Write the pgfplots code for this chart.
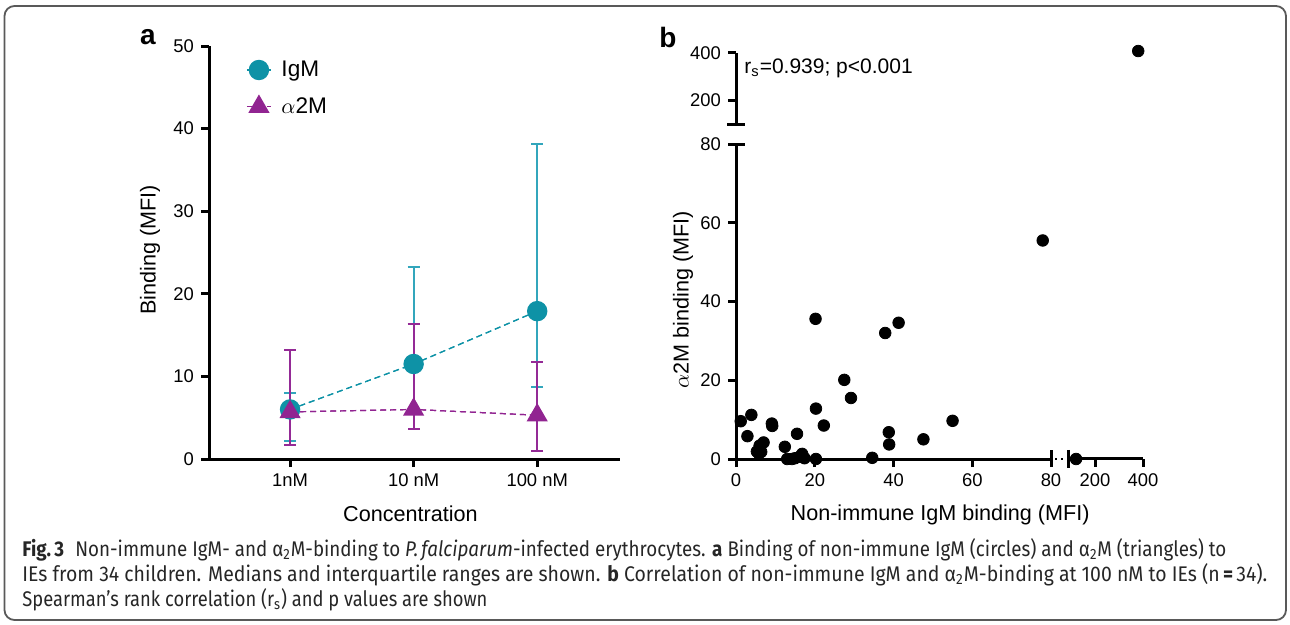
\documentclass[border=0pt]{standalone}
\usepackage{fontspec}
\setmainfont{Liberation Sans}
\newfontfamily\capfont{Fira Sans}
\usepackage{graphicx}
\usepackage{pgfplots}
\pgfplotsset{compat=1.18}

\definecolor{igm}{RGB}{14,146,166}
\definecolor{igmbar}{RGB}{50,166,188}
\definecolor{atm}{RGB}{145,36,145}
\definecolor{atmbar}{RGB}{148,42,150}

% caption lines are squeezed to the width they have in the reference
\newsavebox\capbox
\newcommand\capline[2]{\sbox\capbox{#2}\pgfmathsetmacro\capsx{#1/\the\wd\capbox}\scalebox{\capsx}[1]{\usebox\capbox}}

\pgfplotsset{
  figax/.style={
    scale only axis, clip=false,
    axis line style={line width=1.5pt, -, black},
    every tick/.style={line width=1.5pt, black},
    tick align=outside, major tick length=4pt,
    tick label style={font=\fontsize{9.2}{11}\selectfont},
    /pgf/number format/assume math mode=true,
    label style={font=\fontsize{10.8}{13}\selectfont},
  },
  dot/.style={only marks, mark=*, mark size=2.9pt, black},
}

\pgfplotstableread{
x y
1.2 9.6
3.9 11.2
2.9 5.8
5.3 1.9
6.4 1.8
5.8 1.4
6.0 3.4
7.0 4.2
9.1 9.0
9.2 8.4
12.4 3.1
13.0 0
14.2 0
15.0 0.2
15.5 6.4
16.2 0.6
16.8 1.3
17.4 0.2
20.2 35.6
20.3 12.8
20.3 0
22.3 8.5
27.5 20.1
29.2 15.5
34.6 0.3
37.9 32.0
41.3 34.6
38.8 6.8
38.9 3.7
47.6 5.0
55.0 9.7
77.9 55.5
}\scatterlow

\begin{document}
\begin{tikzpicture}
\begin{scope}[x=0.5pt,y=-0.5pt]
\useasboundingbox (0,0) rectangle (1290,625);
\draw[black!65, line width=0.9pt, rounded corners=5pt] (4.5,6) rectangle (1286,620);
\coordinate (pa) at (209,459);
\coordinate (pb) at (736,459);
\coordinate (pbr) at (1068,459);
\coordinate (pbt) at (736,125);
\coordinate (pbtr) at (1068,125);
\node[font=\bfseries\fontsize{14}{16}\selectfont] at (148,37) {a};
\node[font=\bfseries\fontsize{14}{16}\selectfont] at (668,37) {b};
\draw[dotted, line width=1pt] (1055,459) -- (1065,459);
\node[anchor=west, inner sep=0pt, font=\fontsize{10.5}{12}\selectfont] at (744,68) {r\textsubscript{s}=0.939; p<0.001};
\begin{scope}[every node/.style={anchor=base west, inner sep=0pt, text=black!85, font=\capfont\fontsize{10.6}{12}\selectfont}]
\node at (22,556) {\capline{602}{{\bfseries Fig.\,3}\hspace{0.6em}Non-immune IgM- and α\textsubscript{2}M-binding to \textit{P.\,falciparum}-infected erythrocytes. {\bfseries a} Binding of non-immune IgM (circles) and α\textsubscript{2}M (triangles) to}};
\node at (22,581) {\capline{622.5}{IEs from 34 children. Medians and interquartile ranges are shown. {\bfseries b} Correlation of non-immune IgM and α\textsubscript{2}M-binding at 100 nM to IEs (n\,{\bfseries =}\,34).}};
\node at (22,606) {\capline{232.5}{Spearman’s rank correlation (r\textsubscript{s}) and p values are shown}};
\end{scope}
\end{scope}

% panel a
\begin{axis}[figax, at={(pa)}, anchor=south west, width=205.5pt, height=206.5pt,
  axis lines*=left, xmin=-0.656, xmax=2.67, ymin=0, ymax=50,
  xtick={0,1,2}, xticklabels={1nM,10 nM,100 nM}, ytick={0,10,...,50},
  xlabel={Concentration}, ylabel={Binding (MFI)},
  xlabel style={at={(axis description cs:0.49,-0.133)}, anchor=center},
  ylabel style={at={(axis description cs:-0.1436,0.506)}, anchor=center},
  legend style={draw=none, fill=none, at={(axis description cs:0.09,0.975)}, anchor=north west,
    font=\fontsize{11.3}{13}\selectfont, row sep=5pt, column sep=3pt, inner sep=0pt},
  legend cell align=left,
  legend image code/.code={\draw[mark repeat=2,mark phase=2] plot coordinates {(0cm,0cm) (0.21cm,0cm) (0.42cm,0cm)};},
]
\addplot[forget plot, igm, densely dashed, line width=0.6pt, mark=none,
  error bars/.cd, y dir=both, y explicit,
  error bar style={igmbar, solid, line width=1pt},
  error mark options={igmbar, solid, rotate=90, mark size=3pt, line width=1pt}]
  coordinates {(0,6.0) += (0,2.0) -= (0,3.8) (1,11.5) += (0,11.7) -= (0,6.0) (2,17.9) += (0,20.2) -= (0,9.2)};
\addplot[forget plot, atm, densely dashed, line width=0.6pt, mark=none,
  error bars/.cd, y dir=both, y explicit,
  error bar style={atmbar, solid, line width=1pt},
  error mark options={atmbar, solid, rotate=90, mark size=3pt, line width=1pt}]
  coordinates {(0,5.7) += (0,7.5) -= (0,4.0) (1,6.0) += (0,10.4) -= (0,2.4) (2,5.3) += (0,6.4) -= (0,4.3)};
\addplot[igm, densely dashed, line width=0.6pt, mark=*, mark size=4.8pt, mark options={solid, fill=igm}]
  coordinates {(0,6.0) (1,11.5) (2,17.9)};
\addlegendentry{IgM}
\addplot[atm, densely dashed, line width=0.6pt, mark=triangle*, mark size=5.5pt, mark options={solid, fill=atm}]
  coordinates {(0,5.7) (1,6.0) (2,5.3)};
\addlegendentry{$\alpha$2M}
\end{axis}

% panel b, lower left part
\begin{axis}[figax, at={(pb)}, anchor=south west, width=157.5pt, height=157.5pt,
  axis lines*=left, xmin=0, xmax=80, ymin=0, ymax=80,
  xtick={0,20,...,80}, ytick={0,20,...,80},
  xlabel={Non-immune IgM binding (MFI)}, ylabel={$\alpha$2M binding (MFI)},
  xlabel style={at={(axis description cs:0.648,-0.178)}, anchor=center},
  ylabel style={at={(axis description cs:-0.168,0.505)}, anchor=center},
]
\addplot[dot] table {\scatterlow};
\draw[line width=1.5pt] (axis cs:80,0) -- ++(0pt,4.5pt);
\draw[line width=1.5pt] (axis cs:0,80) -- ++(4.5pt,0pt);
\end{axis}

% panel b, lower right part
\begin{axis}[figax, at={(pbr)}, anchor=south west, width=37.5pt, height=157.5pt,
  axis x line*=bottom, axis y line=none,
  xmin=87.5, xmax=400, ymin=0, ymax=80, xtick={200,400}]
\addplot[dot] coordinates {(121,0)};
\draw[line width=1.5pt] (axis cs:87.5,0) ++(0pt,4.5pt) -- ++(0pt,-9pt);
\end{axis}

% panel b, upper left part
\begin{axis}[figax, at={(pbt)}, anchor=south west, width=157.5pt, height=36.15pt,
  axis y line*=left, axis x line=none,
  xmin=0, xmax=80, ymin=95, ymax=400, ytick={200,400}]
\draw[line width=1.5pt] (axis cs:0,95) ++(-4.5pt,0pt) -- ++(9pt,0pt);
\end{axis}

% panel b, upper right part
\begin{axis}[figax, at={(pbtr)}, anchor=south west, width=37.5pt, height=36.15pt,
  hide axis, xmin=87.5, xmax=400, ymin=95, ymax=400]
\addplot[dot] coordinates {(380,407)};
\end{axis}
\end{tikzpicture}
\end{document}
